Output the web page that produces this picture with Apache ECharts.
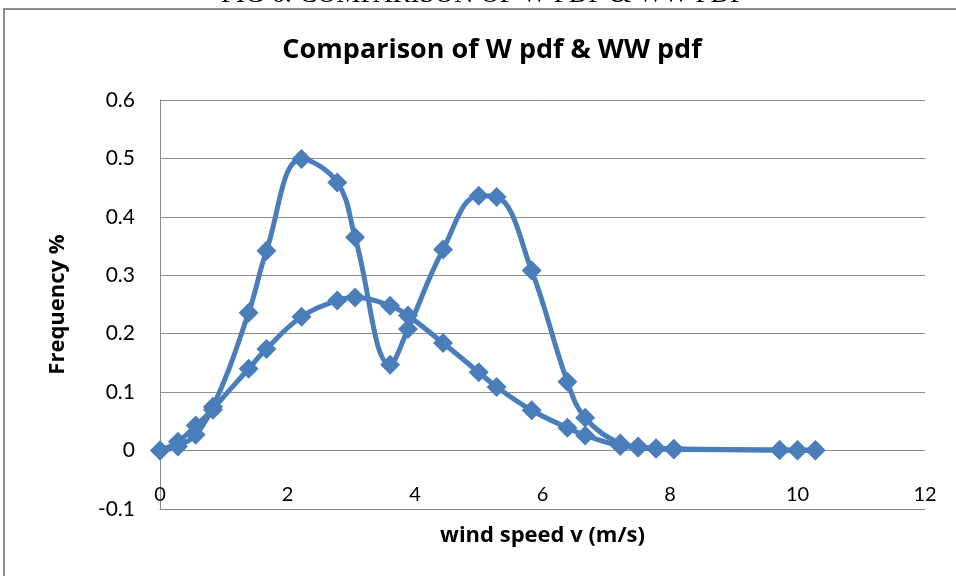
<!DOCTYPE html>
<html>
<head>
<meta charset="utf-8">
<script src="https://cdn.jsdelivr.net/npm/echarts@6/dist/echarts.min.js"></script>
<style>
  html, body { margin: 0; padding: 0; background: #fff; }
  #main { width: 956px; height: 576px; }
</style>
</head>
<body>
<div id="main"></div>
<script>
  // wind speed (m/s)
  var windSpeed = [0, 0.28, 0.56, 0.83, 1.39, 1.67, 2.22, 2.78, 3.06, 3.61, 3.89, 4.44,
    5.0, 5.28, 5.83, 6.39, 6.67, 7.22, 7.5, 7.78, 8.06, 9.72, 10.0, 10.28]
  // WW pdf (two peaks)
  var wwPdf = [0, 0.015, 0.043, 0.075, 0.236, 0.342, 0.499, 0.459, 0.365, 0.147, 0.208, 0.344,
    0.436, 0.434, 0.308, 0.118, 0.056, 0.012, 0.007, 0.004, 0.003, 0.001, 0.001, 0.001]
  // W pdf (one peak)
  var wPdf = [0, 0.007, 0.027, 0.07, 0.14, 0.174, 0.229, 0.257, 0.262, 0.248, 0.231, 0.184,
    0.134, 0.109, 0.069, 0.039, 0.026, 0.008, 0.005, 0.003, 0.002, 0.001, 0, 0]

  var chartTitle = 'Comparison of W pdf & WW pdf'
  var figCaption = 'FIG 6: COMPARISON OF W PDF & WW PDF'
  var xName = 'wind speed v (m/s)'
  var yName = 'Frequency %'

  var blue = '#4A7EBB'
  var gray = '#8C8C8C'
  var font = 'Lato, "Open Sans", sans-serif'
  var boldFont = '"Open Sans", Lato, sans-serif'

  function pairs(xs, ys){
    return xs.map(function(x, i){ return [x, ys[i]] })
  }

  function makeSeries(name, ys){
    return {
      name: name,
      type: 'line',
      smooth: 0.4,
      symbol: 'diamond',
      symbolSize: 20,
      lineStyle: { color: blue, width: 5 },
      itemStyle: { color: blue },
      data: pairs(windSpeed, ys)
    }
  }

  var chart = echarts.init(document.getElementById('main'))

  var option = {
    animation: false,
    backgroundColor: '#fff',
    title: {
      text: chartTitle,
      left: 487,
      top: 32,
      textAlign: 'center',
      textStyle: { fontFamily: boldFont, fontSize: 27, fontWeight: 'bold', color: '#000' }
    },
    graphic: [
      //外框
      {
        type: 'polyline',
        shape: { points: [[4, 576], [4, 9], [956, 9]] },
        style: { stroke: gray, lineWidth: 2, fill: null }
      },
      //被截断的图注
      {
        type: 'text',
        x: 483,
        y: -19,
        z: -1,
        style: {
          text: figCaption,
          font: '27px "Liberation Serif", serif',
          fill: '#000',
          align: 'center',
          verticalAlign: 'top'
        }
      }
    ],
    grid: { left: 160, right: 31, top: 100, bottom: 67 },
    xAxis: {
      type: 'value',
      min: 0,
      max: 12,
      interval: 2,
      name: xName,
      nameLocation: 'middle',
      nameGap: 16,
      nameTextStyle: { fontFamily: boldFont, fontSize: 22, fontWeight: 'bold', color: '#000', verticalAlign: 'top' },
      axisLine: { onZero: false, lineStyle: { color: gray, width: 1 } },
      axisTick: { show: false },
      axisLabel: { inside: true, margin: 4, fontFamily: font, fontSize: 20, color: '#000' },
      splitLine: { show: false }
    },
    yAxis: {
      type: 'value',
      min: -0.1,
      max: 0.6,
      interval: 0.1,
      name: yName,
      nameLocation: 'middle',
      nameGap: 91,
      nameTextStyle: { fontFamily: boldFont, fontSize: 22, fontWeight: 'bold', color: '#000' },
      axisLine: { show: true, lineStyle: { color: gray, width: 1 } },
      axisTick: { show: false },
      axisLabel: {
        margin: 25,
        fontFamily: font,
        fontSize: 21,
        color: '#000',
        formatter: function(v){ return Math.round(v * 10) / 10 + '' }
      },
      splitLine: { show: true, lineStyle: { color: gray, width: 1 } }
    },
    series: [
      makeSeries('W pdf', wPdf),
      makeSeries('WW pdf', wwPdf)
    ]
  }

  chart.setOption(option)
</script>
</body>
</html>
